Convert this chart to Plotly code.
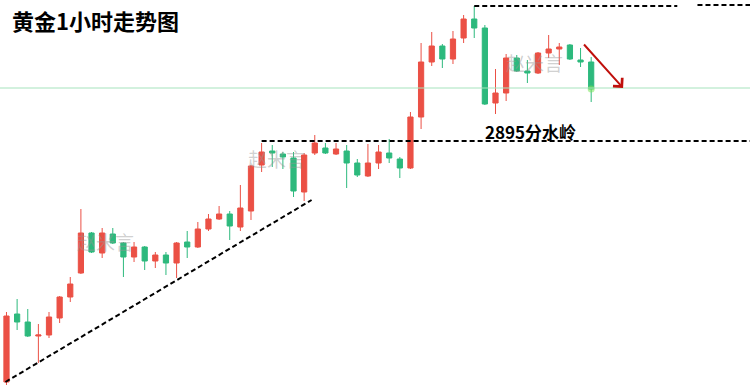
import plotly.graph_objects as go

# Gold 1-hour candles (Chinese colour convention: red = up, green = down)
opens  = [2774.5, 2808.5, 2804.5, 2797.5, 2798.0, 2806.5, 2817.0, 2829.0, 2849.0, 2839.0,
          2848.5, 2844.0, 2837.0, 2842.0, 2835.0, 2838.0, 2834.0, 2844.5, 2842.0, 2851.0,
          2856.0, 2858.5, 2852.0, 2860.0, 2883.0, 2890.0, 2888.5, 2886.5, 2869.5, 2889.0,
          2891.5, 2888.5, 2890.0, 2884.0, 2877.5, 2884.0, 2889.0, 2886.0, 2881.5, 2907.0,
          2934.5, 2942.5, 2936.0, 2946.5, 2956.0, 2951.5, 2914.0, 2919.0, 2936.5, 2930.0,
          2929.0, 2939.0, 2941.0, 2943.0, 2935.5, 2934.5]
highs  = [2809.5, 2816.0, 2811.0, 2803.5, 2809.5, 2817.5, 2827.0, 2861.0, 2849.5, 2851.5,
          2851.5, 2844.5, 2844.5, 2842.5, 2839.5, 2839.5, 2844.5, 2850.0, 2854.5, 2858.5,
          2862.5, 2860.0, 2873.0, 2883.0, 2894.0, 2893.0, 2889.5, 2889.5, 2889.0, 2898.0,
          2894.0, 2894.0, 2893.0, 2886.0, 2893.5, 2893.0, 2896.0, 2887.0, 2909.5, 2944.0,
          2949.5, 2943.5, 2950.0, 2958.0, 2962.5, 2953.0, 2931.0, 2938.5, 2938.0, 2935.5,
          2939.5, 2948.0, 2944.0, 2943.5, 2941.5, 2937.0]
lows   = [2773.0, 2800.5, 2797.0, 2784.0, 2796.5, 2804.0, 2814.5, 2828.5, 2839.0, 2836.5,
          2843.5, 2827.0, 2834.5, 2830.5, 2831.5, 2828.0, 2826.5, 2836.5, 2841.5, 2850.0,
          2855.5, 2845.5, 2850.0, 2855.5, 2879.5, 2882.0, 2881.0, 2867.0, 2865.0, 2888.0,
          2888.5, 2888.0, 2871.5, 2877.0, 2877.0, 2881.0, 2884.0, 2876.5, 2881.0, 2901.0,
          2932.5, 2931.5, 2933.5, 2944.0, 2946.5, 2913.0, 2908.5, 2915.0, 2929.5, 2924.0,
          2928.5, 2936.5, 2933.0, 2935.5, 2932.0, 2914.5]
closes = [2807.5, 2804.5, 2797.5, 2798.0, 2807.0, 2817.0, 2823.5, 2849.0, 2839.5, 2849.0,
          2844.0, 2837.0, 2842.0, 2835.0, 2838.0, 2834.0, 2844.0, 2842.0, 2851.0, 2856.0,
          2858.5, 2852.5, 2861.5, 2882.5, 2889.5, 2889.0, 2887.0, 2870.0, 2888.0, 2894.0,
          2889.0, 2891.0, 2884.0, 2878.0, 2884.0, 2889.5, 2886.5, 2881.5, 2907.0, 2934.5,
          2942.5, 2936.0, 2946.0, 2956.0, 2951.5, 2913.5, 2919.0, 2936.5, 2930.0, 2929.0,
          2939.0, 2941.0, 2942.0, 2936.0, 2934.5, 2921.0]
xs = list(range(len(opens)))

title_text = "黄金1小时走势图"
level_label = "2895分水岭"
level_price = 2895.0
support_price = 2921.5
watermark = "赵米言"

RED = "#eb5045"
GREEN = "#2db97d"
DASH = "5px,3px"

fig = go.Figure()
fig.add_trace(go.Candlestick(
    x=xs, open=opens, high=highs, low=lows, close=closes,
    increasing=dict(line=dict(color=RED, width=1), fillcolor=RED),
    decreasing=dict(line=dict(color=GREEN, width=1), fillcolor=GREEN),
    whiskerwidth=0, showlegend=False, hoverinfo="skip",
))

# small glow on last close
fig.add_trace(go.Scatter(x=[xs[-1]], y=[closes[-1]], mode="markers",
                         marker=dict(size=7, color="rgba(120,230,90,0.55)"),
                         showlegend=False, hoverinfo="skip"))

XMAX = 69.94
shapes = [
    # light green horizontal line
    dict(type="line", xref="paper", x0=0, x1=1, y0=support_price, y1=support_price,
         line=dict(color="#a6e3bd", width=1)),
    # rising trendline along lows
    dict(type="line", x0=xs[0] - 0.1, y0=lows[0] + 1.5, x1=28.7, y1=2865.5,
         line=dict(color="black", width=2, dash=DASH)),
    # 2895 level
    dict(type="line", x0=xs[24], x1=XMAX, y0=level_price, y1=level_price,
         line=dict(color="black", width=2, dash=DASH)),
    # top resistance line (two segments)
    dict(type="line", x0=xs[44], x1=63.1, y0=highs[44], y1=highs[44],
         line=dict(color="black", width=2, dash=DASH)),
    dict(type="line", x0=65.0, x1=XMAX, y0=highs[44] + 0.5, y1=highs[44] + 0.5,
         line=dict(color="black", width=2, dash=DASH)),
]

annotations = [
    dict(text="<b>" + title_text + "</b>", xref="paper", yref="paper", x=0.013, y=0.995,
         xanchor="left", yanchor="top", showarrow=False,
         font=dict(family="Noto Sans CJK SC", size=22, color="black")),
    dict(text="<b>" + level_label + "</b>", x=49.3, y=2900.0, showarrow=False,
         xanchor="center", yanchor="middle",
         font=dict(family="Noto Sans CJK SC", size=17, color="black")),
    # arrow
    dict(x=58.0, y=2921.5, ax=54.2, ay=2944.0, axref="x", ayref="y",
         text="", showarrow=True, arrowhead=4, arrowsize=1.2, arrowwidth=2,
         arrowcolor="#c0100c"),
]
for wx, wy in [(9.27, 2845.0), (25.4, 2886.5), (49.7, 2934.5)]:
    annotations.append(dict(text=watermark, x=wx, y=wy, showarrow=False,
                            font=dict(family="Noto Sans CJK SC", size=19,
                                      color="rgba(150,150,150,0.45)")))

fig.update_layout(
    width=750, height=388,
    margin=dict(l=0, r=0, t=0, b=0),
    paper_bgcolor="white", plot_bgcolor="white",
    xaxis=dict(range=[-0.61, XMAX], visible=False, rangeslider=dict(visible=False)),
    yaxis=dict(range=[2771.5, 2965.5], visible=False),
    shapes=shapes, annotations=annotations,
    showlegend=False,
)

fig.write_html("out.html", config={"displayModeBar": False},
               post_script="document.body.style.margin='0';")
